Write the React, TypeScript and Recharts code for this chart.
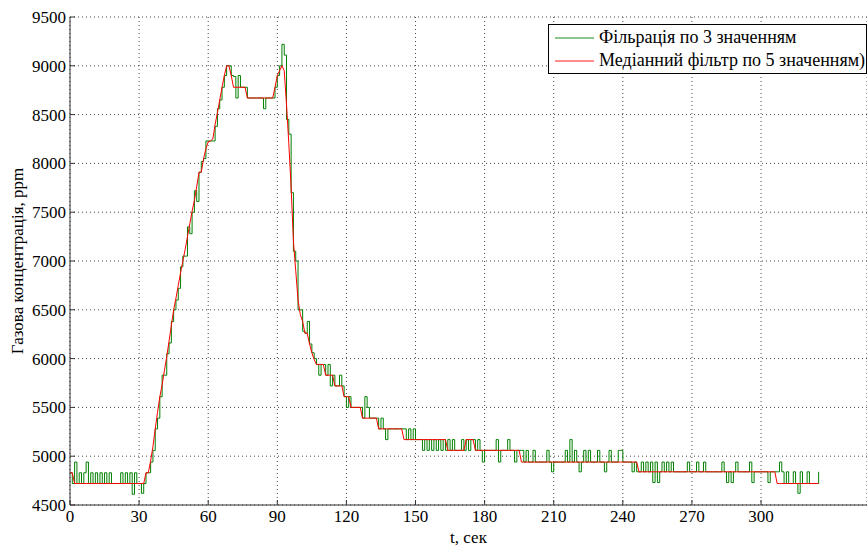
import { LineChart, Line, XAxis, YAxis, CartesianGrid, Legend } from "recharts";

// one sample per second, t = 0 .. 325 s
const SAMPLE_STEP = 1;

// median filter over 5 values (ppm)
const medianFiltered = [
  4830, 4830, 4720, 4720, 4720, 4720, 4720, 4720, 4720, 4720,
  4720, 4720, 4720, 4720, 4720, 4720, 4720, 4720, 4720, 4720,
  4720, 4720, 4720, 4720, 4720, 4720, 4720, 4720, 4720, 4720,
  4720, 4720, 4720, 4830, 4830, 4950, 5100, 5280, 5450, 5610,
  5730, 5880, 6020, 6180, 6340, 6500, 6620, 6750, 6880, 7000,
  7120, 7250, 7380, 7510, 7620, 7760, 7910, 7910, 8050, 8150,
  8220, 8230, 8250, 8400, 8520, 8650, 8780, 8900, 9000, 9000,
  8900, 8780, 8780, 8780, 8780, 8780, 8780, 8670, 8670, 8670,
  8670, 8670, 8670, 8670, 8670, 8670, 8670, 8670, 8670, 8780,
  8900, 8950, 9000, 8950, 8600, 8200, 7750, 7200, 6900, 6600,
  6450, 6380, 6260, 6260, 6150, 6060, 5990, 5940, 5940, 5940,
  5940, 5830, 5830, 5830, 5830, 5720, 5720, 5720, 5720, 5610,
  5610, 5610, 5500, 5500, 5500, 5500, 5500, 5390, 5390, 5390,
  5390, 5390, 5390, 5390, 5280, 5280, 5280, 5280, 5280, 5280,
  5280, 5280, 5280, 5280, 5280, 5170, 5170, 5170, 5170, 5170,
  5170, 5170, 5170, 5170, 5170, 5170, 5170, 5170, 5170, 5170,
  5170, 5170, 5170, 5170, 5060, 5060, 5060, 5060, 5060, 5060,
  5060, 5060, 5170, 5170, 5170, 5170, 5060, 5060, 5060, 5060,
  5060, 5060, 5060, 5060, 5060, 5060, 5060, 5060, 5060, 5060,
  5060, 5060, 5060, 5060, 5060, 5060, 4940, 4940, 4940, 4940,
  4940, 4940, 4940, 4940, 4940, 4940, 4940, 4940, 4940, 4940,
  4940, 4940, 4940, 4940, 4940, 4940, 4940, 4940, 4940, 4940,
  4940, 4940, 4940, 4940, 4940, 4940, 4940, 4940, 4940, 4940,
  4940, 4940, 4940, 4940, 4940, 4940, 4940, 4940, 4940, 4940,
  4940, 4940, 4940, 4940, 4940, 4940, 4940, 4840, 4840, 4840,
  4840, 4840, 4840, 4840, 4840, 4840, 4840, 4840, 4840, 4840,
  4840, 4840, 4840, 4840, 4840, 4840, 4840, 4840, 4840, 4840,
  4840, 4840, 4840, 4840, 4840, 4840, 4840, 4840, 4840, 4840,
  4840, 4840, 4840, 4840, 4840, 4840, 4840, 4840, 4840, 4840,
  4840, 4840, 4840, 4840, 4840, 4840, 4840, 4840, 4840, 4840,
  4840, 4840, 4840, 4840, 4840, 4840, 4840, 4720, 4720, 4720,
  4720, 4720, 4720, 4720, 4720, 4720, 4720, 4720, 4720, 4720,
  4720, 4720, 4720, 4720, 4720, 4720,
];

// filtering over 3 values (ppm)
const threeFiltered = [
  4830, 4720, 4940, 4720, 4830, 4720, 4830, 4940, 4720, 4830,
  4720, 4830, 4720, 4830, 4720, 4830, 4720, 4830, 4720, 4720,
  4720, 4720, 4830, 4720, 4830, 4720, 4830, 4610, 4830, 4720,
  4720, 4620, 4720, 4830, 4830, 4940, 5060, 5280, 5390, 5610,
  5830, 5830, 6050, 6160, 6380, 6500, 6600, 6720, 6940, 7050,
  7050, 7350, 7280, 7500, 7720, 7610, 7910, 8020, 8050, 8230,
  8230, 8230, 8230, 8380, 8560, 8650, 8780, 8900, 9000, 9000,
  8900, 8890, 8670, 8900, 8780, 8780, 8780, 8670, 8670, 8670,
  8670, 8670, 8670, 8670, 8560, 8670, 8670, 8670, 8670, 8780,
  8900, 9000, 9220, 9110, 8450, 8300, 7700, 7100, 7000, 6500,
  6500, 6280, 6260, 6380, 6150, 6060, 6000, 5940, 5830, 5940,
  5940, 5830, 5940, 5720, 5830, 5720, 5720, 5830, 5720, 5610,
  5500, 5610, 5500, 5500, 5500, 5500, 5500, 5390, 5610, 5500,
  5390, 5390, 5390, 5390, 5280, 5390, 5280, 5170, 5280, 5280,
  5280, 5280, 5280, 5280, 5280, 5280, 5170, 5280, 5170, 5280,
  5170, 5170, 5170, 5060, 5170, 5060, 5170, 5060, 5170, 5060,
  5170, 5060, 5170, 5060, 5170, 5060, 5170, 5060, 5060, 5060,
  5170, 5060, 5170, 5060, 5170, 5170, 5060, 5170, 5060, 4940,
  5060, 5060, 5060, 5060, 5060, 5170, 4940, 5060, 5060, 5060,
  5170, 5060, 5060, 4940, 5060, 5060, 5060, 4940, 5060, 4940,
  4940, 5060, 4940, 4940, 4940, 4940, 4940, 5060, 4940, 4840,
  4940, 4940, 4940, 4940, 4940, 5060, 4940, 5170, 4940, 5060,
  4940, 4840, 4940, 5060, 4940, 5060, 4940, 4940, 4940, 5060,
  4940, 4940, 4840, 4940, 5060, 4940, 4940, 4940, 5060, 5060,
  4940, 4940, 4940, 4940, 4840, 4940, 4840, 4840, 4940, 4840,
  4940, 4840, 4940, 4730, 4940, 4730, 4840, 4940, 4840, 4940,
  4840, 4940, 4840, 4840, 4840, 4840, 4840, 4840, 4940, 4840,
  4840, 4840, 4940, 4840, 4840, 4940, 4840, 4840, 4840, 4840,
  4840, 4840, 4840, 4940, 4840, 4730, 4840, 4730, 4840, 4940,
  4840, 4840, 4840, 4840, 4840, 4940, 4730, 4840, 4840, 4840,
  4840, 4840, 4840, 4730, 4840, 4840, 4840, 4840, 4940, 4840,
  4720, 4840, 4720, 4720, 4840, 4720, 4620, 4840, 4720, 4720,
  4840, 4720, 4720, 4720, 4720, 4840,
];

const xTicks = [0, 30, 60, 90, 120, 150, 180, 210, 240, 270, 300];
const yTicks = [4500, 5000, 5500, 6000, 6500, 7000, 7500, 8000, 8500, 9000, 9500];

const GREEN = "#008000";
const RED = "#ff0000";
const FONT = "'Liberation Serif', 'Times New Roman', serif";

const data = medianFiltered.map((m, i) => ({
  t: i * SAMPLE_STEP,
  median: m,
  three: threeFiltered[i],
}));

// matlab style: ticks point into the plot
const BottomTick = (props: any) => {
  const { x, y, payload } = props;
  return (
    <g>
      <line x1={x} y1={y} x2={x} y2={y - 5} stroke="#333" />
      <text x={x} y={y + 17} textAnchor="middle" fontSize={17} fontFamily={FONT} fill="#000">
        {payload.value}
      </text>
    </g>
  );
};

const TopTick = (props: any) => {
  const { x, y } = props;
  return <line x1={x} y1={y} x2={x} y2={y + 5} stroke="#333" />;
};

const LeftTick = (props: any) => {
  const { x, y, payload } = props;
  return (
    <g>
      <line x1={x} y1={y} x2={x + 5} y2={y} stroke="#333" />
      <text x={x - 4} y={y + 6} textAnchor="end" fontSize={17} fontFamily={FONT} fill="#000">
        {payload.value}
      </text>
    </g>
  );
};

const YLabel = (props: any) => {
  const vb = props.viewBox;
  const cx = vb.x + 17;
  const cy = vb.y + vb.height / 2;
  return (
    <text
      x={cx}
      y={cy}
      transform={`rotate(-90, ${cx}, ${cy})`}
      textAnchor="middle"
      dominantBaseline="central"
      fontSize={17}
      fontFamily={FONT}
      fill="#000"
    >
      Газова концентрація, ppm
    </text>
  );
};

const legendItems = [
  { label: "Фільрація по 3 значенням", color: GREEN },
  { label: "Медіанний фільтр по 5 значенням)", color: RED },
];

const LegendBox = () => (
  <div
    style={{
      boxSizing: "border-box",
      width: 319,
      height: 50,
      border: "1px solid #000",
      background: "#fff",
      padding: "1px 0 0 6px",
      fontFamily: FONT,
      fontSize: 18,
      color: "#000",
    }}
  >
    {legendItems.map((it) => (
      <div key={it.label} style={{ display: "flex", alignItems: "center", height: 23 }}>
        <svg width={39} height={4} style={{ marginRight: 5, flexShrink: 0 }}>
          <line x1={0} y1={2} x2={39} y2={2} stroke={it.color} strokeOpacity={0.6} strokeWidth={1.5} />
        </svg>
        <span style={{ whiteSpace: "nowrap" }}>{it.label}</span>
      </div>
    ))}
  </div>
);

export default function App() {
  return (
    <div style={{ position: "absolute", left: 0, top: 0, background: "#fff", fontFamily: FONT }}>
      <LineChart width={867} height={546} data={data} margin={{ top: 17, right: 0, bottom: 0, left: 0 }}>
        <CartesianGrid stroke="#444" strokeDasharray="1 3" vertical horizontal />
        <XAxis
          dataKey="t"
          type="number"
          domain={[0, 346]}
          ticks={xTicks}
          height={41}
          tickSize={0}
          tickMargin={0}
          tick={<BottomTick />}
          axisLine={{ stroke: "#333" }}
          interval={0}
          label={{ value: "t, сек", position: "insideBottom", offset: 3, fontSize: 17, fontFamily: FONT, fill: "#000" }}
        />
        <XAxis
          xAxisId="top"
          orientation="top"
          dataKey="t"
          type="number"
          domain={[0, 346]}
          ticks={xTicks}
          height={0}
          tickSize={0}
          tickMargin={0}
          tick={<TopTick />}
          axisLine={{ stroke: "#333" }}
          interval={0}
        />
        <YAxis
          type="number"
          domain={[4500, 9500]}
          ticks={yTicks}
          width={70}
          tickSize={0}
          tickMargin={0}
          tick={<LeftTick />}
          axisLine={{ stroke: "#333" }}
          interval={0}
          label={<YLabel />}
        />
        <Legend
          layout="vertical"
          align="center"
          verticalAlign="middle"
          content={<LegendBox />}
          wrapperStyle={{ left: 548, top: 24, width: 319, height: 50 }}
        />
        <Line
          type="stepAfter"
          dataKey="three"
          stroke={GREEN}
          strokeWidth={1}
          dot={false}
          isAnimationActive={false}
        />
        <Line
          type="linear"
          dataKey="median"
          stroke={RED}
          strokeWidth={1}
          dot={false}
          isAnimationActive={false}
        />
      </LineChart>
    </div>
  );
}
